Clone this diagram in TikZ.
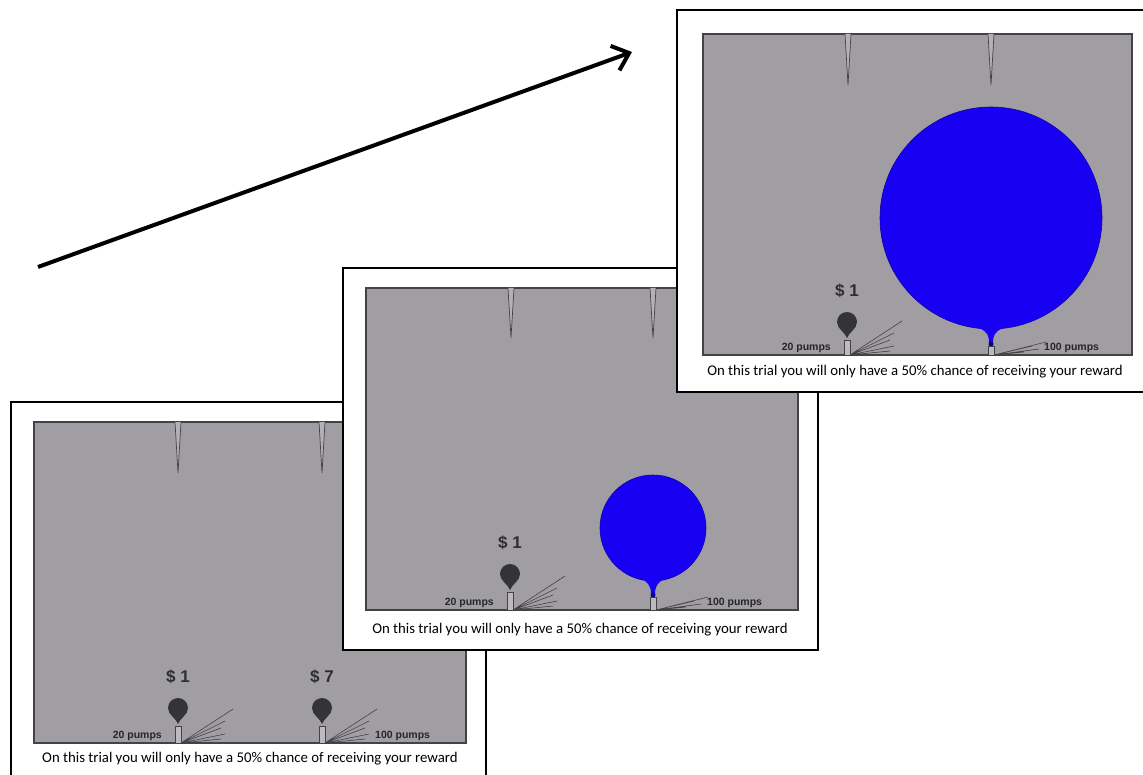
\documentclass[tikz,border=0pt]{standalone}
\usepackage{fontspec}
\setmainfont{Carlito}
\newfontfamily\labelfont{Liberation Sans}
\usetikzlibrary{arrows.meta}
\definecolor{boardgray}{RGB}{160,157,163}
\definecolor{rimgray}{RGB}{68,66,70}
\definecolor{darkballoon}{RGB}{52,52,54}
\definecolor{bigblue}{RGB}{24,0,242}

\begin{document}
\begin{tikzpicture}[x=1pt,y=1pt]
\tikzstyle{every node}+=[inner sep=0pt]
\tikzstyle{frame}=[draw=black,line width=2pt,fill=white]
\tikzstyle{board}=[draw=rimgray,line width=1.6pt,fill=boardgray]
\tikzstyle{floor}=[draw=rimgray,line width=2.6pt]
\tikzstyle{needle}=[draw=rimgray,line width=0.7pt,fill=boardgray!80!white]
\tikzstyle{nozzle}=[draw=rimgray,line width=0.6pt,fill=boardgray!70!white]
\tikzstyle{fan}=[draw=rimgray,line width=0.6pt]
\tikzstyle{amount}=[font=\labelfont\bfseries\fontsize{17}{17}\selectfont,text=black!82]
\tikzstyle{pumps}=[font=\labelfont\bfseries\fontsize{10.5}{10.5}\selectfont,text=black!85]
\tikzstyle{caption}=[font=\fontsize{14.8}{14.8}\selectfont]
\clip (0,0) rectangle (1143,-775);
\fill[white] (0,0) rectangle (1143,-775);
% rising arrow
\coordinate (tail) at (38,-267);
\coordinate (head) at (632,-52);
\draw [line width=4pt,-{Straight Barb[length=15pt,width=26pt,line width=4pt]}] (tail) -- (head);
% first trial screen
\begin{scope}[shift={(34,-422)}]
\filldraw [frame] (-23,20) rectangle (452,-359);
\filldraw [board] (0,0) rectangle (432,-321);
\draw [floor] (0,-321) -- (432,-321);
\draw [needle] (141,0) -- (144,-51) -- (147,0);
\draw [needle] (285,0) -- (288,-51) -- (291,0);
\node [amount] (p1amtA) at (144,-255) {\$ 1};
\fill [darkballoon] (134,-286) arc (180:0:10) .. controls (154,-293) and (146,-296) .. (144,-302) .. controls (142,-296) and (134,-293) .. (134,-286) -- cycle;
\filldraw [nozzle] (141,-304) rectangle (147,-321);
\draw [fan] (147,-321) -- (199,-287) (147,-321) -- (191,-299) (147,-321) -- (187,-306) (147,-321) -- (191,-312) (147,-321) -- (187,-317);
\node [pumps,anchor=south east] (p1lowA) at (128,-319) {20 pumps};
\node [amount] (p1amtB) at (288,-255) {\$ 7};
\fill [darkballoon] (278,-286) arc (180:0:10) .. controls (298,-293) and (290,-296) .. (288,-302) .. controls (286,-296) and (278,-293) .. (278,-286) -- cycle;
\filldraw [nozzle] (285,-304) rectangle (291,-321);
\draw [fan] (291,-321) -- (343,-287) (291,-321) -- (335,-299) (291,-321) -- (331,-306) (291,-321) -- (335,-312) (291,-321) -- (331,-317);
\node [pumps,anchor=south west] (p1lowB) at (341,-319) {100 pumps};
\node [caption] (p1cap) at (216,-337) {On this trial you will only have a 50\% chance of receiving your reward};
\end{scope}
% second trial screen
\begin{scope}[shift={(366,-288)}]
\filldraw [frame] (-23,20) rectangle (452,-362);
\filldraw [board] (0,0) rectangle (432,-322);
\draw [floor] (0,-322) -- (432,-322);
\draw [needle] (142,0) -- (145,-50) -- (148,0);
\draw [needle] (284,0) -- (287,-50) -- (290,0);
\node [amount] (p2amtA) at (144,-255) {\$ 1};
\fill [darkballoon] (134,-286) arc (180:0:10) .. controls (154,-293) and (146,-296) .. (144,-302) .. controls (142,-296) and (134,-293) .. (134,-286) -- cycle;
\filldraw [nozzle] (141,-304) rectangle (147,-322);
\draw [fan] (147,-322) -- (199,-288) (147,-322) -- (191,-300) (147,-322) -- (187,-307) (147,-322) -- (191,-313) (147,-322) -- (187,-318);
\node [pumps,anchor=south east] (p2lowA) at (128,-320) {20 pumps};
\filldraw [draw=bigblue!70!black,line width=0.6pt,fill=bigblue] (287,-240) circle (53);
\fill [bigblue] (275,-290) .. controls (284,-296) and (285,-300) .. (285,-306) -- (289,-306) .. controls (289,-300) and (290,-296) .. (299,-290) -- cycle;
\fill [bigblue!60!black] (287,-307) circle (2.5);
\filldraw [nozzle] (284,-309) rectangle (290,-322);
\draw [fan] (290,-322) -- (342,-309) (290,-322) -- (328,-313) (290,-322) -- (335,-316) (290,-322) -- (320,-319);
\node [pumps,anchor=south west] (p2lowB) at (341,-320) {100 pumps};
\node [caption] (p2cap) at (214,-342) {On this trial you will only have a 50\% chance of receiving your reward};
\end{scope}
% third trial screen
\begin{scope}[shift={(703,-34)}]
\filldraw [frame] (-26,24) rectangle (452,-358);
\filldraw [board] (0,0) rectangle (429,-321);
\draw [floor] (0,-321) -- (429,-321);
\draw [needle] (142,0) -- (145,-51) -- (148,0);
\draw [needle] (285,0) -- (288,-51) -- (291,0);
\node [amount] (p3amtA) at (144,-257) {\$ 1};
\fill [darkballoon] (134,-288) arc (180:0:10) .. controls (154,-295) and (146,-298) .. (144,-304) .. controls (142,-298) and (134,-295) .. (134,-288) -- cycle;
\filldraw [nozzle] (141,-306) rectangle (147,-321);
\draw [fan] (147,-321) -- (199,-287) (147,-321) -- (191,-299) (147,-321) -- (187,-306) (147,-321) -- (191,-312) (147,-321) -- (187,-317);
\node [pumps,anchor=south east] (p3lowA) at (128,-319) {20 pumps};
\filldraw [draw=bigblue!70!black,line width=0.6pt,fill=bigblue] (288,-184) circle (111);
\fill [bigblue] (276,-294) .. controls (285,-298) and (286,-302) .. (286,-309) -- (290,-309) .. controls (290,-302) and (291,-298) .. (300,-294) -- cycle;
\fill [bigblue!60!black] (288,-310) circle (2.5);
\filldraw [nozzle] (285,-312) rectangle (291,-321);
\draw [fan] (291,-321) -- (343,-308) (291,-321) -- (329,-312) (291,-321) -- (336,-315) (291,-321) -- (321,-318);
\node [pumps,anchor=south west] (p3lowB) at (341,-319) {100 pumps};
\node [caption] (p3cap) at (212,-338) {On this trial you will only have a 50\% chance of receiving your reward};
\end{scope}
\end{tikzpicture}
\end{document}
